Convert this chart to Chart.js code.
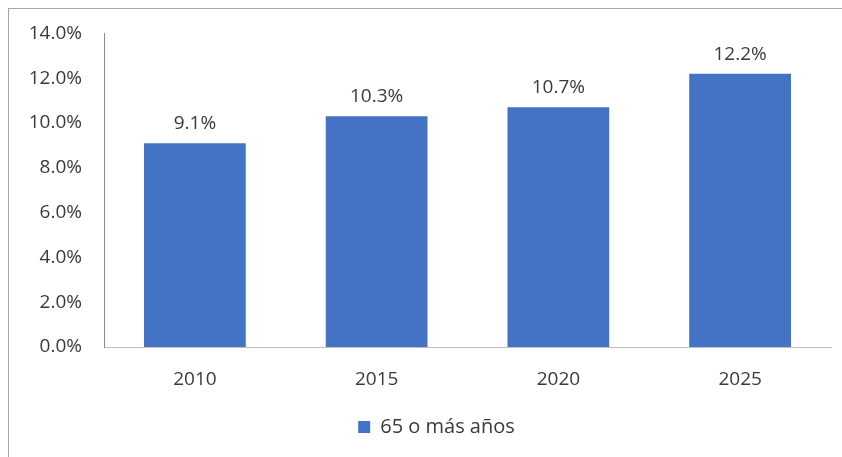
<!DOCTYPE html>
<html>
<head>
<meta charset="utf-8">
<script src="https://cdn.jsdelivr.net/npm/chart.js@4.4.1/dist/chart.umd.min.js"></script>
<style>
  html, body { margin: 0; padding: 0; background: #ffffff; }
  #wrap { position: relative; width: 842px; height: 457px; overflow: hidden; }
  #frame { position: absolute; left: 8px; top: 8px; width: 900px; height: 500px;
           border-top: 1px solid #a6a6a6; border-left: 1px solid #a6a6a6; }
  canvas { position: absolute; left: 0; top: 0; }
</style>
</head>
<body>
<div id="wrap">
  <div id="frame"></div>
  <canvas id="c" width="842" height="457"></canvas>
</div>
<script>
// Share of population aged 65 and over, by year
const years = ['2010', '2015', '2020', '2025'];
const share65 = [9.1, 10.3, 10.7, 12.2];
const seriesName = '65 o más años';

const TEXT = '#3a3a3a';
const FONT = { family: '"Open Sans", sans-serif', size: 19 };

// Percentage labels above each bar
const valueLabels = {
  id: 'valueLabels',
  afterDatasetsDraw(chart) {
    const ctx = chart.ctx;
    const meta = chart.getDatasetMeta(0);
    ctx.save();
    ctx.fillStyle = TEXT;
    ctx.font = `${FONT.size}px ${FONT.family}`;
    ctx.textAlign = 'center';
    ctx.textBaseline = 'bottom';
    meta.data.forEach((bar, i) => {
      ctx.fillText(share65[i].toFixed(1) + '%', bar.x, bar.y - 10);
    });
    ctx.restore();
  }
};

// Nudge the legend a little to the right of the canvas centre
const legendOffset = {
  id: 'legendOffset',
  afterLayout(chart) {
    const lg = chart.legend;
    if (!lg) return;
    const shift = 21;
    lg.left += shift;
    lg.right += shift;
  }
};

new Chart(document.getElementById('c'), {
  type: 'bar',
  data: {
    labels: years,
    datasets: [{
      label: seriesName,
      data: share65,
      backgroundColor: '#4472C4',
      borderWidth: 0,
      categoryPercentage: 1,
      barPercentage: 0.56
    }]
  },
  options: {
    responsive: false,
    animation: false,
    layout: { padding: { top: 33, right: 11, left: 0, bottom: 10 } },
    plugins: {
      legend: {
        position: 'bottom',
        labels: {
          color: TEXT,
          font: { family: FONT.family, size: 20 },
          boxWidth: 12,
          boxHeight: 12,
          padding: 10
        }
      },
      tooltip: { enabled: false }
    },
    scales: {
      x: {
        grid: { display: false, drawTicks: false },
        border: { color: '#bfbfbf', width: 1 },
        ticks: { color: TEXT, font: FONT, padding: 21 },
        afterFit(s) { s.height = 60; }
      },
      y: {
        min: 0, max: 14,
        grid: { display: false, drawTicks: false },
        border: { color: '#8c8c8c', width: 1 },
        ticks: {
          stepSize: 2,
          color: TEXT,
          font: FONT,
          padding: 22,
          callback: v => v.toFixed(1) + '%'
        },
        afterFit(s) { s.width = 104; }
      }
    }
  },
  plugins: [valueLabels, legendOffset]
});
</script>
</body>
</html>
